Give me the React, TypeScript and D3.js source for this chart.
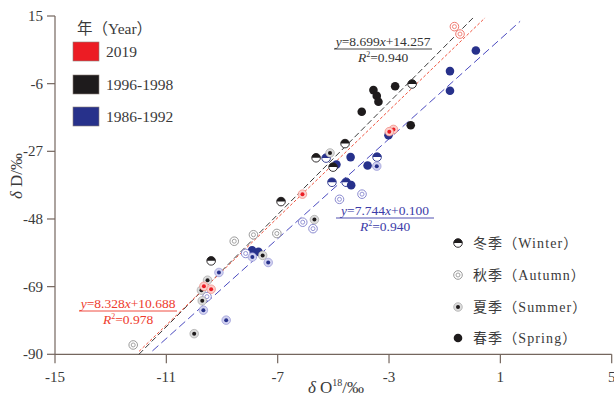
import React from "react";
import * as d3 from "d3";

type Season = "winter" | "autumn" | "summer" | "spring";
interface Pt { s: Season; x: number; y: number }

const xTicks = [-15, -11, -7, -3, 1, 5];
const yTicks = [-90, -69, -48, -27, -6, 15];

const yearLabels = ["2019", "1996-1998", "1986-1992"];
const seasonKeys: Season[] = ["winter", "autumn", "summer", "spring"];
const seasonLabels = ["冬季（Winter）", "秋季（Autumn）", "夏季（Summer）", "春季（Spring）"];

const data2019: Pt[] = [
  { s: "autumn", x: -0.65, y: 11.7 },
  { s: "autumn", x: -0.45, y: 9.4 },
  { s: "summer", x: -2.84, y: -20.2 },
  { s: "summer", x: -2.99, y: -20.9 },
  { s: "summer", x: -6.11, y: -40.3 },
  { s: "summer", x: -9.65, y: -68.9 },
  { s: "summer", x: -9.39, y: -69.8 },
];

const data1996: Pt[] = [
  { s: "winter", x: -2.17, y: -6.1 },
  { s: "spring", x: -2.78, y: -6.8 },
  { s: "spring", x: -3.56, y: -8.0 },
  { s: "spring", x: -3.44, y: -9.8 },
  { s: "spring", x: -3.38, y: -11.6 },
  { s: "spring", x: -3.98, y: -14.7 },
  { s: "spring", x: -2.22, y: -18.9 },
  { s: "winter", x: -4.58, y: -24.6 },
  { s: "summer", x: -5.12, y: -27.5 },
  { s: "winter", x: -5.62, y: -29.0 },
  { s: "winter", x: -5.01, y: -31.9 },
  { s: "winter", x: -6.88, y: -42.6 },
  { s: "summer", x: -5.68, y: -48.2 },
  { s: "autumn", x: -7.03, y: -52.5 },
  { s: "autumn", x: -7.87, y: -52.9 },
  { s: "autumn", x: -8.56, y: -54.9 },
  { s: "summer", x: -7.54, y: -59.3 },
  { s: "winter", x: -9.39, y: -61.0 },
  { s: "summer", x: -9.52, y: -67.0 },
  { s: "summer", x: -9.74, y: -70.1 },
  { s: "summer", x: -9.71, y: -73.4 },
  { s: "summer", x: -10.0, y: -83.6 },
  { s: "autumn", x: -12.19, y: -87.1 },
];

const data1986: Pt[] = [
  { s: "spring", x: 0.12, y: 4.3 },
  { s: "spring", x: -0.81, y: -2.1 },
  { s: "spring", x: -0.81, y: -8.2 },
  { s: "spring", x: -3.02, y: -22.0 },
  { s: "spring", x: -4.38, y: -28.8 },
  { s: "winter", x: -3.43, y: -28.8 },
  { s: "winter", x: -5.26, y: -29.1 },
  { s: "spring", x: -3.77, y: -31.4 },
  { s: "summer", x: -3.44, y: -31.6 },
  { s: "spring", x: -4.89, y: -31.1 },
  { s: "winter", x: -5.05, y: -36.6 },
  { s: "winter", x: -4.54, y: -36.6 },
  { s: "spring", x: -4.36, y: -37.5 },
  { s: "autumn", x: -4.78, y: -41.9 },
  { s: "autumn", x: -3.97, y: -40.3 },
  { s: "autumn", x: -6.1, y: -49.0 },
  { s: "autumn", x: -5.73, y: -51.0 },
  { s: "spring", x: -7.92, y: -57.7 },
  { s: "spring", x: -7.69, y: -58.2 },
  { s: "autumn", x: -8.15, y: -58.7 },
  { s: "summer", x: -7.91, y: -59.8 },
  { s: "summer", x: -7.34, y: -61.5 },
  { s: "summer", x: -9.11, y: -64.6 },
  { s: "autumn", x: -9.54, y: -72.1 },
  { s: "summer", x: -9.67, y: -76.3 },
  { s: "summer", x: -8.85, y: -79.4 },
];

// regression: slope, intercept, x range drawn
const fitBlack = { a: 8.699, b: 14.257, x0: -11.985, x1: 0.085 };
const fitRed = { a: 8.328, b: 10.688, x0: -11.98, x1: 0.45 };
const fitBlue = { a: 7.744, b: 0.1, x0: -11.5, x1: 1.71 };

const W = 614;
const H = 397;
const x = d3.scaleLinear().domain([-15, 5]).range([55, 611.7]);
const y = d3.scaleLinear().domain([-90, 15]).range([354.3, 16]);

interface Pal { main: string; light: string; ring: string }
const palRed: Pal = { main: "#ec1c24", light: "#fbd0cc", ring: "#f07a70" };
const palBlack: Pal = { main: "#1e1b1c", light: "#dcdcdc", ring: "#9a9a9a" };
const palBlue: Pal = { main: "#27318b", light: "#d2d2f0", ring: "#8a8ad0" };

const R = 4.3;

function Marker({ s, cx, cy, pal }: { s: Season; cx: number; cy: number; pal: Pal }) {
  if (s === "spring") {
    return <circle cx={cx} cy={cy} r={R} fill={pal.main} />;
  }
  if (s === "winter") {
    return (
      <g transform={`translate(${cx},${cy})`}>
        <circle r={R} fill="#fff" stroke={pal.main} strokeWidth={0.9} />
        <path d={`M${-R},0 A${R},${R} 0 0 1 ${R},0 Z`} fill={pal.main} />
      </g>
    );
  }
  if (s === "autumn") {
    return (
      <g transform={`translate(${cx},${cy})`}>
        <circle r={R} fill="#fff" stroke={pal.ring} strokeWidth={1} />
        <circle r={2} fill="none" stroke={pal.ring} strokeWidth={0.9} />
      </g>
    );
  }
  return (
    <g transform={`translate(${cx},${cy})`}>
      <circle r={R} fill={pal.light} stroke={pal.ring} strokeWidth={0.6} />
      <circle r={2} fill={pal.main} />
    </g>
  );
}

function FitLine({ f, color, dash }: { f: { a: number; b: number; x0: number; x1: number }; color: string; dash: string }) {
  const line = d3
    .line<number>()
    .x((v) => x(v))
    .y((v) => y(f.a * v + f.b));
  return <path d={line([f.x0, f.x1]) || ""} stroke={color} strokeWidth={1} strokeDasharray={dash} fill="none" />;
}

function Equation({ cx, by, slope, icpt, r2, color }: { cx: number; by: number; slope: string; icpt: string; r2: string; color: string }) {
  return (
    <g fill={color} fontFamily="'Liberation Serif', serif" fontSize={13.5} textAnchor="middle">
      <text x={cx} y={by}>
        <tspan fontStyle="italic">y</tspan>={slope}
        <tspan fontStyle="italic">x</tspan>+{icpt}
      </text>
      <line x1={cx - 49} x2={cx + 49} y1={by + 3} y2={by + 3} stroke={color} strokeWidth={0.9} />
      <text x={cx} y={by + 16}>
        <tspan fontStyle="italic">R</tspan>
        <tspan dy={-5} fontSize={8}>2</tspan>
        <tspan dy={5}>={r2}</tspan>
      </text>
    </g>
  );
}

export default function App() {
  const axisColor = "#74665e";
  const textColor = "#3a3a3a";
  const serif = "'Liberation Serif', 'Times New Roman', serif";
  const cjk = "'Liberation Serif', 'Noto Sans CJK SC', serif";
  const series: [Pt[], Pal][] = [
    [data1986, palBlue],
    [data1996, palBlack],
    [data2019, palRed],
  ];
  const legendPals = [palRed, palBlack, palBlue];
  const legendBoxY = [42, 75, 107];
  const seasonY = [243, 275, 307, 338];
  return (
    <svg width={W} height={H} style={{ position: "absolute", left: 0, top: 0, background: "#fff" }}>
      <rect width={W} height={H} fill="#fff" />
      {/* axes */}
      <line x1={x(-15)} x2={x(-15)} y1={y(15)} y2={y(-90)} stroke={axisColor} strokeWidth={1.2} />
      <line x1={x(-15)} x2={x(5)} y1={y(-90)} y2={y(-90)} stroke={axisColor} strokeWidth={1.2} />
      {yTicks.map((t) => (
        <g key={"y" + t}>
          <line x1={x(-15) - 8} x2={x(-15)} y1={y(t)} y2={y(t)} stroke={axisColor} strokeWidth={1.2} />
          <text x={43} y={y(t) + 5} textAnchor="end" fontFamily={serif} fontSize={15} fill={textColor}>
            {t}
          </text>
        </g>
      ))}
      {xTicks.map((t) => (
        <g key={"x" + t}>
          <line x1={x(t)} x2={x(t)} y1={y(-90)} y2={y(-90) + 9} stroke={axisColor} strokeWidth={1.2} />
          <text x={x(t)} y={382} textAnchor="middle" fontFamily={serif} fontSize={15} fill={textColor}>
            {t}
          </text>
        </g>
      ))}
      {/* axis titles */}
      <text transform="translate(22,176) rotate(-90)" textAnchor="middle" fontFamily={serif} fontSize={17} fill={textColor}>
        <tspan fontStyle="italic">δ</tspan> D/‰
      </text>
      <text x={336} y={393} textAnchor="middle" fontFamily={serif} fontSize={17} fill={textColor}>
        <tspan fontStyle="italic">δ</tspan> O
        <tspan dy={-7} fontSize={10}>18</tspan>
        <tspan dy={7}>/‰</tspan>
      </text>
      {/* fit lines */}
      <FitLine f={fitBlack} color="#3c3c3c" dash="6,3" />
      <FitLine f={fitRed} color="#f05540" dash="3,2" />
      <FitLine f={fitBlue} color="#4a4ac0" dash="8,4" />
      {/* points */}
      {series.map(([pts, pal], i) =>
        pts.map((p, j) => <Marker key={i + "-" + j} s={p.s} cx={x(p.x)} cy={y(p.y)} pal={pal} />)
      )}
      {/* equations */}
      <Equation cx={383} by={46} slope="8.699" icpt="14.257" r2="0.940" color="#333333" />
      <Equation cx={128} by={308} slope="8.328" icpt="10.688" r2="0.978" color="#ee3a2c" />
      <Equation cx={385} by={215} slope="7.744" icpt="0.100" r2="0.940" color="#3c3ca8" />
      {/* year legend */}
      <text x={77} y={34} fontFamily={cjk} fontSize={15.5} fill={textColor}>
        年（Year）
      </text>
      {yearLabels.map((lab, i) => (
        <g key={lab}>
          <rect x={73} y={legendBoxY[i]} width={26} height={19} fill={legendPals[i].main} stroke="#8a7f78" strokeWidth={0.6} />
          <text x={106} y={legendBoxY[i] + 15} fontFamily={serif} fontSize={15.5} fill={textColor}>
            {lab}
          </text>
        </g>
      ))}
      {/* season legend */}
      {seasonKeys.map((s, i) => (
        <g key={s}>
          <Marker s={s} cx={458} cy={seasonY[i]} pal={palBlack} />
          <text x={473} y={seasonY[i] + 5} fontFamily={cjk} fontSize={14} fill={textColor} letterSpacing={1.1}>
            {seasonLabels[i]}
          </text>
        </g>
      ))}
    </svg>
  );
}
